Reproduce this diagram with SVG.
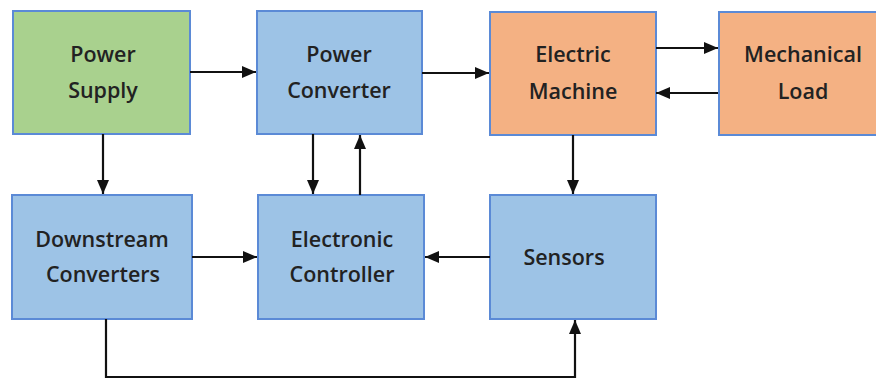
<svg xmlns="http://www.w3.org/2000/svg" width="876" height="379" viewBox="0 0 876 379">
<style>
.box{stroke:#5b8ad6;stroke-width:2}
.g{fill:#a9d18e}.b{fill:#9dc3e6}.o{fill:#f4b183}
text{font-family:"Open Sans","Liberation Sans",sans-serif;font-weight:600;font-size:21.5px;fill:#222;text-anchor:middle}
.c{stroke:#111;stroke-width:2.2;fill:none;marker-end:url(#ah)}
</style>
<defs>
<marker id="ah" viewBox="0 0 14 12" refX="14" refY="6" markerWidth="14" markerHeight="12" markerUnits="userSpaceOnUse" orient="auto">
<path d="M0,0L14,6L0,12z" fill="#111"/>
</marker>
</defs>
<rect width="876" height="379" fill="#fff"/>
<g id="power-supply"><rect class="box g" x="13" y="11" width="177" height="123"/><text x="103" y="62">Power</text><text x="103" y="98">Supply</text></g>
<g id="power-converter"><rect class="box b" x="257" y="11" width="165" height="123"/><text x="339" y="62">Power</text><text x="339" y="98">Converter</text></g>
<g id="electric-machine"><rect class="box o" x="490" y="12" width="166" height="123"/><text x="573" y="62">Electric</text><text x="573" y="99">Machine</text></g>
<g id="mechanical-load"><rect class="box o" x="719" y="12" width="160" height="123"/><text x="803" y="62">Mechanical</text><text x="803" y="99">Load</text></g>
<g id="downstream-converters"><rect class="box b" x="12" y="195" width="180" height="124"/><text x="102" y="247">Downstream</text><text x="103" y="282">Converters</text></g>
<g id="electronic-controller"><rect class="box b" x="258" y="195" width="166" height="124"/><text x="342" y="247">Electronic</text><text x="342" y="282">Controller</text></g>
<g id="sensors"><rect class="box b" x="490" y="195" width="166" height="124"/><text x="564" y="265">Sensors</text></g>
<g id="connectors">
<path class="c" d="M190,72H256"/>
<path class="c" d="M422,73H489"/>
<path class="c" d="M656,48H718"/>
<path class="c" d="M718,93H656"/>
<path class="c" d="M103,134V194"/>
<path class="c" d="M313,134V194"/>
<path class="c" d="M360,195V135"/>
<path class="c" d="M573,135V194"/>
<path class="c" d="M192,257H257"/>
<path class="c" d="M490,257H425"/>
<path class="c" d="M106,319V377H575V320"/>
</g>
</svg>
